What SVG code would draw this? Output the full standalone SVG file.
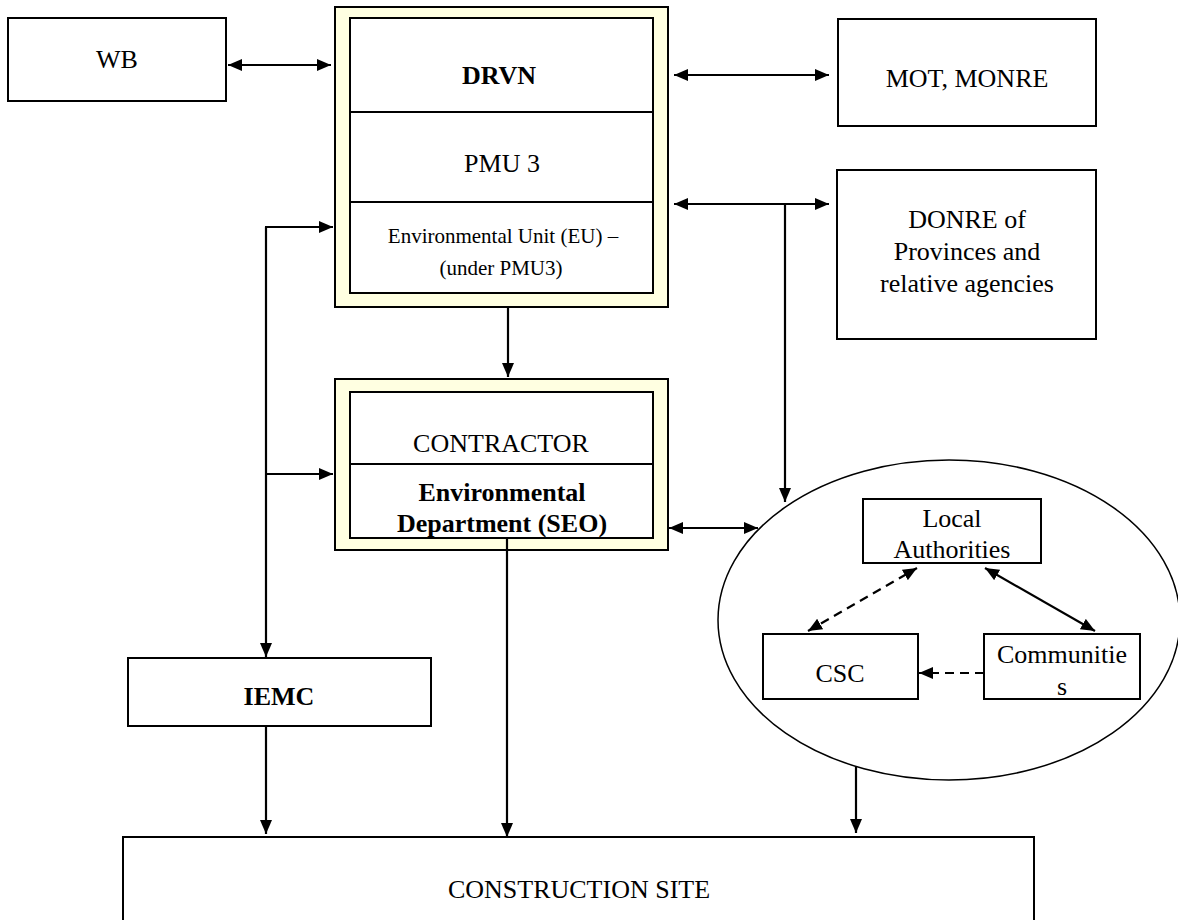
<svg xmlns="http://www.w3.org/2000/svg" width="1178" height="920" viewBox="0 0 1178 920">
<style>
.box{fill:#ffffff;stroke:#000;stroke-width:2}
.frame{fill:#ffffe1;stroke:#000;stroke-width:2}
.t{font-family:"Liberation Serif","Times New Roman",serif;font-size:26px;fill:#000;text-anchor:middle}
.b{font-weight:bold}
.s{font-size:21px}
.c{fill:none;stroke:#000;stroke-width:2.2}
.d{stroke-dasharray:9,6}
</style>
<defs>
<marker id="ah" viewBox="0 0 14 12" refX="14" refY="6" markerWidth="14" markerHeight="12" markerUnits="userSpaceOnUse" orient="auto-start-reverse">
<path d="M0,0 L14,6 L0,12 z" fill="#000"/>
</marker>
</defs>
<rect width="1178" height="920" fill="#fff"/>

<g id="wb">
<rect class="box" x="8" y="18" width="218" height="83"/>
<text class="t" x="117" y="68">WB</text>
</g>

<g id="drvn">
<rect class="frame" x="335" y="7" width="333" height="300"/>
<rect class="box" x="350" y="18" width="303" height="275"/>
<line class="c" x1="350" y1="112" x2="653" y2="112"/>
<line class="c" x1="350" y1="202" x2="653" y2="202"/>
<text class="t b" x="499" y="84" font-size="27">DRVN</text>
<text class="t" x="502" y="172">PMU 3</text>
<text class="t s" x="503" y="243">Environmental Unit (EU) –</text>
<text class="t s" x="501" y="275">(under PMU3)</text>
</g>

<g id="mot">
<rect class="box" x="838" y="19" width="258" height="107"/>
<text class="t" x="967" y="87">MOT, MONRE</text>
</g>

<g id="donre">
<rect class="box" x="837" y="170" width="259" height="169"/>
<text class="t" x="967" y="228">DONRE of</text>
<text class="t" x="967" y="260">Provinces and</text>
<text class="t" x="967" y="292">relative agencies</text>
</g>

<g id="contractor">
<rect class="frame" x="335" y="379" width="333" height="171"/>
<rect class="box" x="350" y="392" width="303" height="146"/>
<line class="c" x1="350" y1="464" x2="653" y2="464"/>
<text class="t" x="501" y="452">CONTRACTOR</text>
<text class="t b" x="502" y="501">Environmental</text>
<text class="t b" x="502" y="532">Department (SEO)</text>
</g>

<g id="iemc">
<rect class="box" x="128" y="658" width="303" height="68"/>
<text class="t b" x="279" y="705">IEMC</text>
</g>

<g id="community">
<ellipse cx="949" cy="620" rx="231" ry="160" fill="none" stroke="#000" stroke-width="1.5"/>
</g>

<g id="local-authorities">
<rect class="box" x="863" y="499" width="178" height="64"/>
<text class="t" x="952" y="527">Local</text>
<text class="t" x="952" y="558">Authorities</text>
</g>

<g id="csc">
<rect class="box" x="763" y="634" width="155" height="65"/>
<text class="t" x="840" y="682">CSC</text>
</g>

<g id="communities">
<rect class="box" x="984" y="634" width="156" height="65"/>
<text class="t" x="1062" y="663">Communitie</text>
<text class="t" x="1062" y="695">s</text>
</g>

<g id="construction-site">
<rect class="box" x="123" y="837" width="911" height="100"/>
<text class="t" x="579" y="898">CONSTRUCTION SITE</text>
</g>

<g id="connectors">
<line class="c" x1="228" y1="65" x2="331" y2="65" marker-start="url(#ah)" marker-end="url(#ah)"/>
<line class="c" x1="674" y1="75" x2="829" y2="75" marker-start="url(#ah)" marker-end="url(#ah)"/>
<line class="c" x1="674" y1="204" x2="829" y2="204" marker-start="url(#ah)" marker-end="url(#ah)"/>
<line class="c" x1="785" y1="204" x2="785" y2="502" marker-end="url(#ah)"/>
<line class="c" x1="266" y1="227" x2="266" y2="657" marker-end="url(#ah)"/>
<line class="c" x1="265" y1="227" x2="333" y2="227" marker-end="url(#ah)"/>
<line class="c" x1="266" y1="474" x2="333" y2="474" marker-end="url(#ah)"/>
<line class="c" x1="508" y1="307" x2="508" y2="377" marker-end="url(#ah)"/>
<line class="c" x1="669" y1="528" x2="758" y2="528" marker-start="url(#ah)" marker-end="url(#ah)"/>
<line class="c" x1="266" y1="726" x2="266" y2="834" marker-end="url(#ah)"/>
<line class="c" x1="507" y1="538" x2="507" y2="837" marker-end="url(#ah)"/>
<line class="c" x1="856" y1="766" x2="856" y2="833" marker-end="url(#ah)"/>
<line class="c d" x1="808" y1="631" x2="917" y2="568" marker-start="url(#ah)" marker-end="url(#ah)"/>
<line class="c" x1="985" y1="568" x2="1095" y2="631" marker-start="url(#ah)" marker-end="url(#ah)"/>
<line class="c d" x1="984" y1="673" x2="919" y2="673" marker-end="url(#ah)"/>
</g>
</svg>
